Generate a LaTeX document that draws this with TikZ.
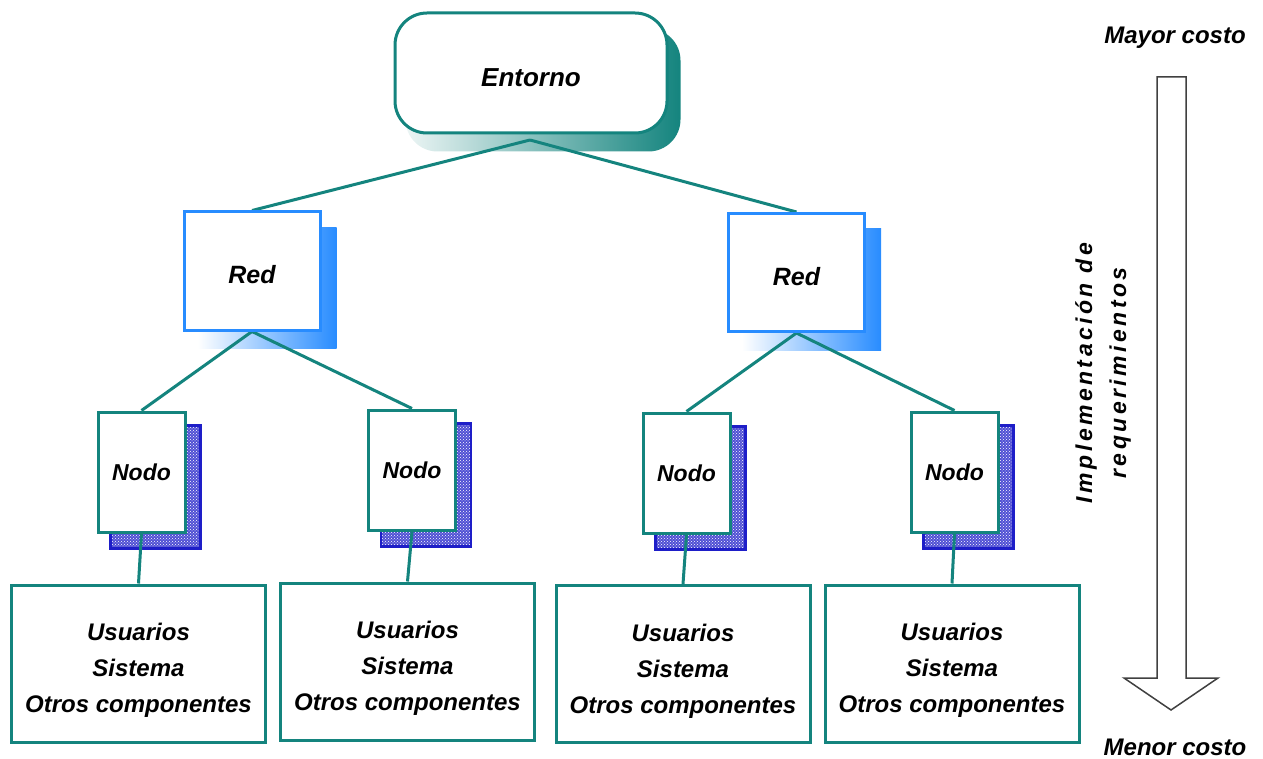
\documentclass[tikz,border=0pt]{standalone}
\usepackage{fontspec}
\setmainfont{Liberation Sans}
\newfontfamily\spacedfont[LetterSpace=15]{Liberation Sans}
\usetikzlibrary{backgrounds,patterns,calc}
\definecolor{tealc}{RGB}{20,132,126}
\definecolor{bluec}{RGB}{40,140,255}
\definecolor{navyc}{RGB}{30,30,200}
\newcommand{\lowerby}[2]{\raisebox{-#1}[\height][\depth]{#2}}
\begin{document}
\begin{tikzpicture}[x=1pt,y=-1pt,
  lbl/.style={font=\fontsize{24}{36}\selectfont\bfseries\itshape, align=center},
  entbox/.style={draw=tealc, line width=3pt, fill=white, rounded corners=32pt,
    minimum width=272pt, minimum height=120pt, inner sep=0pt, font=\fontsize{26}{30}\selectfont\bfseries\itshape},
  redbox/.style={draw=bluec, line width=3pt, fill=white, minimum width=136pt,
    minimum height=118pt, inner sep=0pt, font=\fontsize{25}{30}\selectfont\bfseries\itshape},
  nodobox/.style={draw=tealc, line width=3pt, fill=white, minimum width=87pt,
    minimum height=120pt, inner sep=0pt, font=\fontsize{23}{30}\selectfont\bfseries\itshape},
  compbox/.style={draw=tealc, line width=3pt, fill=white, minimum width=254pt,
    minimum height=157pt, inner sep=0pt},
  conn/.style={draw=tealc, line width=3pt},
  redshadow/.style={left color=white, right color=bluec},
  nodoshadow/.style={draw=navyc, line width=2.2pt, pattern=crosshatch dots, pattern color=white},
]
\useasboundingbox (0,0) rectangle (1263,759);

% main boxes
\node[entbox] (ent) at (531,73) {\lowerby{5pt}{Entorno}};
\node[redbox] (redL) at (252,271) {\lowerby{4pt}{Red}};
\node[redbox] (redR) at (796.5,272.5) {\lowerby{4pt}{Red}};
\node[nodobox] (n1) at (141.5,472) {Nodo};
\node[nodobox] (n2) at (412,470) {Nodo};
\node[nodobox] (n3) at (686.5,473) {Nodo};
\node[nodobox] (n4) at (954.5,472) {Nodo};
\node[compbox] (b1) at (138.5,663.5) {};
\node[compbox] (b2) at (407.5,661.5) {};
\node[compbox] (b3) at (683,664) {};
\node[compbox] (b4) at (952,663.5) {};
\foreach \b in {b1,b2,b3,b4}
  \node[lbl] (t\b) at ($(\b)+(0,7)$) {Usuarios\\Sistema\\Otros componentes};
\coordinate (entc) at (530,140);

\begin{scope}[on background layer]
  % shadows
  \shade[left color=tealc!8, right color=tealc, rounded corners=32pt]
    ($(ent.north west)+(12,17)$) rectangle ($(ent.south east)+(12,17)$);
  \shade[redshadow] ($(redL.north west)+(15,17)$) rectangle ($(redL.south east)+(15,17)$);
  \shade[redshadow] ($(redR.north west)+(15,17)$) rectangle ($(redR.south east)+(15,17)$);
  \foreach \n in {n1,n2,n3,n4}{
    \fill[navyc!78] ($(\n.north west)+(14,15)$) rectangle ($(\n.south east)+(14,15)$);
    \path[nodoshadow] ($(\n.north west)+(14,15)$) rectangle ($(\n.south east)+(14,15)$);
  }
  % connectors
  \draw[conn] (entc) -- (redL.north);
  \draw[conn] (entc) -- (redR.north);
  \draw[conn] (redL.south) -- (n1.north);
  \draw[conn] (redL.south) -- (n2.north);
  \draw[conn] (redR.south) -- (n3.north);
  \draw[conn] (redR.south) -- (n4.north);
  \draw[conn] (n1.south) -- (b1.north);
  \draw[conn] (n2.south) -- (b2.north);
  \draw[conn] (n3.south) -- (b3.north);
  \draw[conn] (n4.south) -- (b4.north);
\end{scope}

% cost arrow
\draw[line width=1.5pt, draw=black!75, fill=white, line join=miter]
  (1157,77) -- (1186,77) -- (1186,678) -- (1218,678) -- (1171,710)
  -- (1124,678) -- (1157,678) -- cycle;
\node[lbl] (mayor) at (1175,38) {Mayor costo};
\node[lbl] (menor) at (1175,747) {Menor costo};
\node[rotate=90, align=center,
  font=\spacedfont\fontsize{23}{34}\selectfont\bfseries\itshape] (impl) at (1103,373)
  {Implementación de\\requerimientos};
\end{tikzpicture}
\end{document}
